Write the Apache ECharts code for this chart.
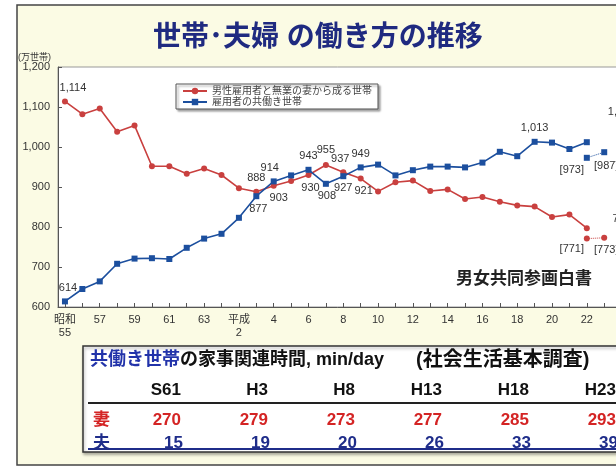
<!DOCTYPE html>
<html><head><meta charset="utf-8">
<script src="https://cdn.jsdelivr.net/npm/echarts@6/dist/echarts.min.js"></script>
<style>html,body{margin:0;padding:0;background:#fff}#c{width:616px;height:471px}</style>
</head><body><div id="c"></div>
<script>
// ---- data ----
const years = [1980,1981,1982,1983,1984,1985,1986,1987,1988,1989,1990,1991,1992,1993,1994,1995,1996,1997,1998,1999,2000,2001,2002,2003,2004,2005,2006,2007,2008,2009,2010,2011,2012];
const singleIncome = [1114,1082,1096,1038,1054,952,952,933,946,930,897,888,903,915,930,955,937,921,889,912,916,890,894,870,875,863,854,851,825,831,797,null,787];
const dualIncome = [614,645,664,708,721,722,720,748,771,783,823,877,914,929,943,908,927,949,956,929,942,951,951,949,961,988,977,1013,1011,995,1012,null,1054];
const exclYears = [2010,2011];
const singleExcl = [771,773];
const dualExcl = [973,987];
const tickLabelYears = [1980,1982,1984,1986,1988,1990,1992,1994,1996,1998,2000,2002,2004,2006,2008,2010,2012];
const tickLabels = ['昭和\n55','57','59','61','63','平成\n2','4','6','8','10','12','14','16','18','20','22','24'];
const seriesNames = ['男性雇用者と無業の妻から成る世帯','雇用者の共働き世帯'];
const tableCols = ['S61','H3','H8','H13','H18','H23'];
const wifeMin = [270,279,273,277,285,293];
const husbandMin = [15,19,20,26,33,39];

// ---- label placement (style only) ----
const redLabelPos = {1980:['top',8,0],1991:['top',0,0],1992:['bottom',5,-1],1994:['bottom',2,-1],1995:['top',0,-2],1996:['top',-3,0],1997:['bottom',3,-1],2012:['top',0,0]};
const blueLabelPos = {1980:['top',3,0],1991:['bottom',2,-1],1992:['top',-4,0],1994:['top',0,0],1995:['bottom',1,-1],1996:['bottom',0,-2],1997:['top',0,0],2007:['top',0,0],2012:['top',0,0]};
const redExclPos = [['bottom',-15,-3],['bottom',2,-1]];
const blueExclPos = [['bottom',-15,-1],['bottom',2,0]];

const RED = '#c9403f', BLUE = '#1c4f9e';
const FONT = '"Liberation Sans", "Noto Sans CJK JP", sans-serif';
const fmt = v => v >= 1000 ? Math.floor(v/1000) + ',' + String(v%1000).padStart(3,'0') : String(v);

function lbl(pos, bracket){
  return {show:true, position:pos[0], offset:[pos[1],pos[2]], fontSize:11, color:'#333', fontFamily:FONT,
    formatter: p => bracket ? '[' + p.value[1] + ']' : fmt(p.value[1])};
}
function mainData(vals, posMap){
  return years.map((y,i) => {
    const v = vals[i];
    const item = {value:[y, v == null ? '-' : v]};
    if (posMap[y]) item.label = lbl(posMap[y], false);
    return item;
  });
}
function exclData(vals, posArr){
  return exclYears.map((y,i) => ({value:[y, vals[i]], label: lbl(posArr[i], true)}));
}

const chart = echarts.init(document.getElementById('c'), null, {renderer:'canvas'});

const tableGraphics = [];
const colX = i => 181 + 87*i;
tableCols.forEach((c,i) => {
  tableGraphics.push({type:'text', z:20, style:{text:c, x:colX(i), y:390, align:'right', verticalAlign:'middle', font:'bold 17px ' + FONT, fill:'#111'}});
  tableGraphics.push({type:'text', z:20, style:{text:String(wifeMin[i]), x:colX(i), y:420, align:'right', verticalAlign:'middle', font:'bold 17px ' + FONT, fill:'#d42424'}});
  tableGraphics.push({type:'text', z:20, style:{text:String(husbandMin[i]), x:colX(i)+2, y:443, align:'right', verticalAlign:'middle', font:'bold 17px ' + FONT, fill:'#1f2d8a'}});
});

const option = {
  animation:false,
  backgroundColor:'#ffffff',
  title:{text:'世帯･夫婦 の働き方の推移', left:148, top:19,
    textStyle:{fontSize:28, fontWeight:'bold', color:'#1f2a80', fontFamily:FONT}},
  legend:{data:seriesNames, orient:'vertical', left:176, top:84, backgroundColor:'#fff',
    borderColor:'#555', borderWidth:1, padding:[2,6], itemGap:1, itemWidth:24, itemHeight:8,
    shadowBlur:2, shadowColor:'rgba(0,0,0,0.35)', shadowOffsetX:2, shadowOffsetY:2,
    textStyle:{fontSize:10, color:'#444', fontFamily:FONT}},
  grid:{left:58, top:67, width:581, height:240, outerBoundsMode:'none', containLabel:false,
    show:true, backgroundColor:'#fff', borderColor:'#999', borderWidth:1},
  xAxis:{type:'value', min:1979.6, max:2013,
    axisLine:{show:true, lineStyle:{color:'#555'}},
    axisTick:{show:true, inside:true, length:4, lineStyle:{color:'#555'}, customValues:years},
    axisLabel:{customValues:tickLabelYears, formatter:v => tickLabels[tickLabelYears.indexOf(v)], fontSize:11, color:'#333', fontFamily:FONT, margin:6, lineHeight:13},
    splitLine:{show:false}},
  yAxis:{type:'value', min:600, max:1200, interval:100,
    axisLine:{show:true, lineStyle:{color:'#555'}},
    axisTick:{show:true, inside:true, length:4, lineStyle:{color:'#555'}},
    axisLabel:{formatter:v => fmt(v), fontSize:11, color:'#333', fontFamily:FONT, margin:8},
    splitLine:{show:false}},
  series:[
    {name:seriesNames[0], type:'line', data:mainData(singleIncome, redLabelPos), symbol:'circle', symbolSize:6,
      itemStyle:{color:RED}, lineStyle:{color:RED, width:1.6}, connectNulls:false, z:3},
    {name:seriesNames[1], type:'line', data:mainData(dualIncome, blueLabelPos), symbol:'rect', symbolSize:6,
      itemStyle:{color:BLUE}, lineStyle:{color:BLUE, width:1.6}, connectNulls:false, z:3},
    {name:'excl1', type:'line', data:exclData(singleExcl, redExclPos), symbol:'circle', symbolSize:6,
      itemStyle:{color:RED}, lineStyle:{color:RED, width:1, type:'dotted'}},
    {name:'excl2', type:'line', data:exclData(dualExcl, blueExclPos), symbol:'rect', symbolSize:6,
      itemStyle:{color:BLUE}, lineStyle:{color:BLUE, width:1, type:'dotted'}}
  ],
  graphic:[
    {type:'rect', z:-100, silent:true, shape:{x:17, y:5, width:640, height:460}, style:{fill:'#fbfbe4', stroke:'#444', lineWidth:1.5}},
    {type:'text', z:10, style:{text:'(万世帯)', x:18, y:58, verticalAlign:'middle', font:'9px ' + FONT, fill:'#333'}},
    {type:'text', z:10, style:{text:'男女共同参画白書', x:456, y:279, verticalAlign:'middle', font:'bold 17px ' + FONT, fill:'#222'}},
    {type:'rect', z:5, shape:{x:83, y:346, width:600, height:106}, style:{fill:'#fff', stroke:'#333', lineWidth:1.5, shadowBlur:3, shadowColor:'rgba(0,0,0,0.3)', shadowOffsetX:1, shadowOffsetY:2}},
    {type:'text', z:20, style:{text:'{b|共働き世帯}{k|の家事関連時間, min/day}{p|(社会生活基本調査)}', x:90, y:360, verticalAlign:'middle',
      rich:{b:{font:'bold 18px ' + FONT, fill:'#2233aa'}, k:{font:'bold 18px ' + FONT, fill:'#111'}, p:{font:'bold 20px ' + FONT, fill:'#111', padding:[0,0,0,32]}}}},
    {type:'line', z:20, shape:{x1:88, y1:403, x2:640, y2:403}, style:{stroke:'#222', lineWidth:2}},
    {type:'line', z:20, shape:{x1:88, y1:449, x2:640, y2:449}, style:{stroke:'#1f2d8a', lineWidth:2}},
    {type:'text', z:20, style:{text:'妻', x:93, y:420, verticalAlign:'middle', font:'bold 17px ' + FONT, fill:'#d42424'}},
    {type:'text', z:20, style:{text:'夫', x:93, y:443, verticalAlign:'middle', font:'bold 17px ' + FONT, fill:'#1f2d8a'}}
  ].concat(tableGraphics)
};
chart.setOption(option);
</script></body></html>
